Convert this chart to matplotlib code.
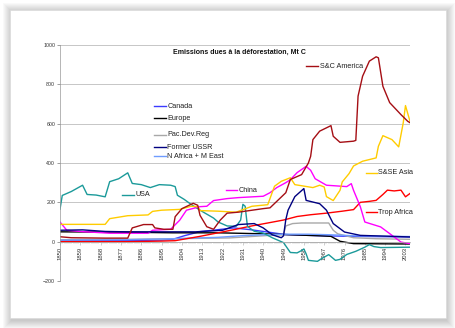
import matplotlib
matplotlib.use("Agg")
import matplotlib.pyplot as plt
from matplotlib.patches import Rectangle
from matplotlib.lines import Line2D
from matplotlib.ticker import MultipleLocator, FixedLocator

plt.rcParams["font.family"] = ["Liberation Sans", "DejaVu Sans"]

TITLE = "Emissions dues à la déforestation, Mt C"

# Emissions by region, Mt C
usa_years = [1850, 1851, 1855, 1860, 1862, 1866, 1870, 1872, 1876, 1880, 1882, 1886,
             1890, 1894, 1899, 1901, 1902, 1905, 1908, 1912, 1915, 1918, 1920, 1924,
             1928, 1930, 1931, 1932, 1933, 1936, 1940, 1944, 1949, 1952, 1955, 1957,
             1958, 1959, 1960, 1964, 1966, 1969, 1972, 1974, 1977, 1981, 1985, 1987,
             1989, 1992, 2005]
usa_vals = [165, 235, 255, 287, 240, 237, 228, 305, 320, 350, 296, 290,
            275, 290, 287, 280, 236, 215, 190, 160, 140, 120, 100, 80,
            78, 110, 190, 180, 78, 53, 44, 20, -5, -55, -57, -45,
            -37, -62, -95, -100, -85, -66, -95, -90, -65, -49, -28, -15,
            -25, -30, -28]

sca_years = [1850, 1855, 1870, 1880, 1882, 1887, 1891, 1892, 1896, 1900, 1901, 1904,
             1909, 1911, 1912, 1915, 1918, 1921, 1924, 1929, 1940, 1943, 1950, 1952,
             1957, 1960, 1961, 1962, 1965, 1970, 1971, 1974, 1980, 1981, 1982, 1984,
             1987, 1990, 1991, 1993, 1996, 2001, 2004, 2005]
sca_vals = [25, 20, 18, 18, 70, 87, 87, 70, 63, 63, 127, 168,
            195, 185, 134, 76, 63, 110, 145, 150, 168, 172, 249, 316,
            341, 400, 434, 519, 562, 590, 536, 505, 511, 515, 740, 841,
            918, 940, 935, 790, 707, 646, 612, 605]

ssea_years = [1850, 1860, 1870, 1872, 1880, 1889, 1891, 1895, 1903, 1908, 1911, 1912,
              1920, 1928, 1935, 1942, 1945, 1948, 1952, 1954, 1962, 1965, 1967, 1968,
              1971, 1974, 1975, 1978, 1980, 1984, 1990, 1991, 1993, 1997, 2000, 2002,
              2003, 2005]
ssea_vals = [88, 88, 88, 117, 132, 136, 154, 160, 164, 180, 178, 158,
             155, 150, 180, 188, 282, 307, 325, 290, 275, 287, 278, 229,
             209, 261, 304, 346, 385, 409, 426, 485, 539, 519, 482, 604,
             692, 612]

china_years = [1850, 1853, 1860, 1872, 1889, 1891, 1899, 1903, 1906, 1912, 1915, 1918,
               1924, 1929, 1940, 1943, 1946, 1950, 1952, 1955, 1959, 1961, 1963, 1968,
               1977, 1979, 1980, 1983, 1985, 1992, 1996, 2001, 2005]
china_vals = [100, 58, 51, 43, 43, 58, 63, 109, 160, 178, 180, 209,
              219, 224, 231, 249, 275, 300, 315, 351, 383, 363, 320, 287,
              280, 295, 261, 178, 100, 75, 41, -2, -10]

trop_years = [1850, 1880, 1895, 1901, 1912, 1920, 1927, 1934, 1942, 1949, 1955, 1961,
              1968, 1975, 1980, 1983, 1987, 1990, 1993, 1995, 1998, 2001, 2003, 2005]
trop_vals = [0, 0, 3, 5, 27, 45, 61, 78, 95, 110, 128, 137,
             145, 155, 163, 200, 205, 210, 240, 262, 258, 262, 228, 245]

ussr_years = [1850, 1860, 1870, 1880, 1895, 1910, 1922, 1929, 1936, 1940, 1944, 1948,
              1949, 1950, 1951, 1954, 1958, 1959, 1965, 1968, 1971, 1976, 1983, 2005]
ussr_vals = [58, 60, 52, 50, 50, 50, 58, 87, 92, 70, 35, 20,
             30, 112, 160, 229, 270, 210, 193, 160, 92, 49, 32, 24]

europe_years = [1850, 1880, 1900, 1920, 1940, 1950, 1965, 1970, 1974, 1980, 2005]
europe_vals = [50, 48, 45, 45, 40, 36, 30, 27, 2, -10, -12]

pac_years = [1850, 1880, 1900, 1925, 1940, 1949, 1950, 1953, 1957, 1969, 1971, 1973,
             1980, 1990, 2005]
pac_vals = [10, 12, 15, 19, 30, 36, 80, 92, 95, 95, 58, 40,
            20, 15, 12]

canada_years = [1850, 1870, 1895, 1900, 1905, 1912, 1920, 1927, 1935, 1950, 1965, 1980, 2005]
canada_vals = [5, 5, 8, 12, 30, 51, 61, 70, 60, 36, 30, 27, 24]

name_years = [1850, 1880, 1900, 1920, 1930, 1940, 1950, 1960, 1970, 1980, 1990, 2005]
name_vals = [8, 10, 15, 22, 30, 35, 38, 38, 35, 30, 28, 26]

series = [
    ("Canada", canada_years, canada_vals, "#3b3bff"),
    ("Europe", europe_years, europe_vals, "#000000"),
    ("Pac.Dev.Reg", pac_years, pac_vals, "#a8a8a8"),
    ("N Africa + M East", name_years, name_vals, "#6f9cff"),
    ("Trop Africa", trop_years, trop_vals, "#ff0000"),
    ("USA", usa_years, usa_vals, "#1b9a9a"),
    ("China", china_years, china_vals, "#ff00ff"),
    ("S&SE Asia", ssea_years, ssea_vals, "#ffcc00"),
    ("Former USSR", ussr_years, ussr_vals, "#000080"),
    ("S&C America", sca_years, sca_vals, "#a50e14"),
]
colors = {name: c for name, _, _, c in series}

W, H = 456, 328
fig = plt.figure(figsize=(W / 100, H / 100), dpi=100)
fig.patch.set_facecolor("white")


def fx(px):
    return px / W


def fy(py):
    return 1 - py / H


# page with a soft drop shadow
for i in range(9, 0, -1):
    fig.patches.append(Rectangle((fx(10 - i + 2), fy(318 + i + 2)), fx(436 + 2 * i - 2),
                                 (308 + 2 * i) / H, transform=fig.transFigure,
                                 facecolor="#000000", alpha=0.022, edgecolor="none",
                                 zorder=-20))
fig.patches.append(Rectangle((fx(10), fy(318)), fx(436), 308 / H, transform=fig.transFigure,
                             facecolor="white", edgecolor="#d8d8d8", linewidth=0.4,
                             zorder=-10))

ax = fig.add_axes([fx(60), fy(281), fx(350), 236 / H])
ax.set_facecolor("none")

for name, yrs, vals, c in series:
    ax.plot(yrs, vals, color=c, linewidth=1.0, solid_joinstyle="round")

ax.set_xlim(1850, 2005)
ax.set_ylim(-200, 1000)
ax.yaxis.set_major_locator(MultipleLocator(200))
ax.yaxis.grid(True, color="#bdbdbd", linewidth=0.6)
ax.set_axisbelow(True)
ax.tick_params(axis="y", labelsize=3.8, colors="#555555", length=2, width=0.4, pad=1.5)
for lab in ax.get_yticklabels():
    lab.set_color("#333333")

ax.spines["top"].set_visible(False)
ax.spines["right"].set_visible(False)
ax.spines["left"].set_color("#999999")
ax.spines["left"].set_linewidth(0.5)
ax.spines["bottom"].set_position(("data", 0))
ax.spines["bottom"].set_color("#aaaaaa")
ax.spines["bottom"].set_linewidth(0.5)

ax.xaxis.set_major_locator(FixedLocator(list(range(1850, 2006, 9))))
ax.xaxis.set_minor_locator(MultipleLocator(1))
ax.tick_params(axis="x", which="major", labelsize=4.2, labelrotation=90, length=2,
               width=0.4, color="#aaaaaa", pad=1.5)
ax.tick_params(axis="x", which="minor", length=1.5, width=0.3, color="#aaaaaa")
for lab in ax.get_xticklabels():
    lab.set_color("#333333")

fig.text(fx(239), fy(52), TITLE, ha="center", va="center", fontsize=5,
         fontweight="bold", color="#111111")

# in-chart labels: (name, line start x px, line end x px, y px)
labels = [
    ("Canada", 154, 166, 106),
    ("Europe", 154, 166, 118),
    ("Pac.Dev.Reg", 154, 166, 135),
    ("Former USSR", 154, 166, 147),
    ("N Africa + M East", 154, 166, 156),
    ("USA", 122, 134, 195),
    ("China", 226, 237, 190),
    ("S&C America", 306, 318, 66),
    ("S&SE Asia", 366, 377, 173),
    ("Trop Africa", 366, 377, 212),
]
for name, x0, x1, y in labels:
    fig.lines.append(Line2D([fx(x0), fx(x1)], [fy(y), fy(y)], transform=fig.transFigure,
                            color=colors[name], linewidth=1.0))
    fig.text(fx(x1 + 1.5), fy(y), name, ha="left", va="center", fontsize=5.2,
             color="#222222")

fig.savefig("out.png", dpi=100)
